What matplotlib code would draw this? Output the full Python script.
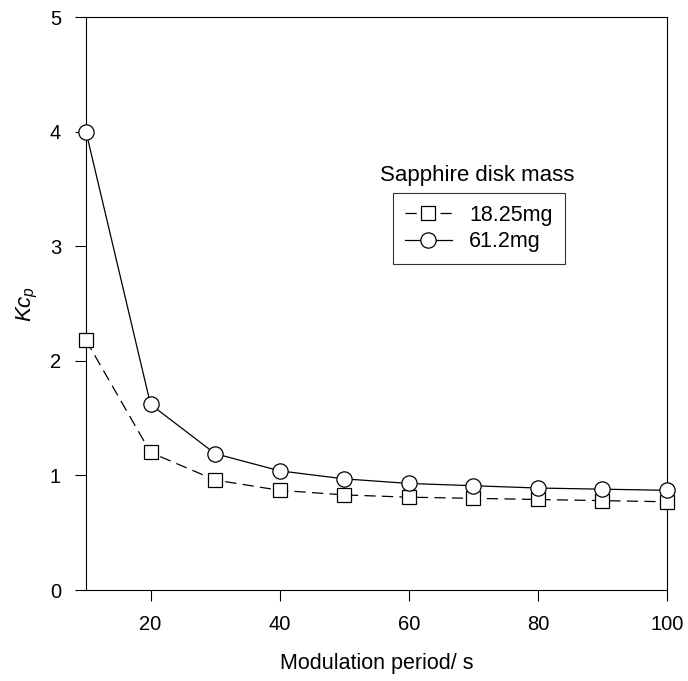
import matplotlib.pyplot as plt

plt.rcParams['font.family'] = ['Liberation Sans', 'DejaVu Sans']
plt.rcParams['mathtext.fontset'] = 'custom'
plt.rcParams['mathtext.rm'] = 'Liberation Sans'
plt.rcParams['mathtext.it'] = 'Liberation Sans:italic'

period = [10, 20, 30, 40, 50, 60, 70, 80, 90, 100]
kcp_18 = [2.18, 1.20, 0.96, 0.87, 0.83, 0.81, 0.80, 0.79, 0.78, 0.77]
kcp_61 = [4.00, 1.62, 1.19, 1.04, 0.97, 0.93, 0.91, 0.89, 0.88, 0.87]

fig = plt.figure(figsize=(6.88, 6.81), dpi=100)
ax = fig.add_axes([0.125, 0.1336, 0.8445, 0.8414])

ax.plot(period, kcp_18, color='black', lw=0.9, dashes=(9, 5),
        marker='s', ms=9.5, mfc='white', mec='black', mew=0.9,
        label='18.25mg', clip_on=False, zorder=3)
ax.plot(period, kcp_61, color='black', lw=0.9,
        marker='o', ms=11, mfc='white', mec='black', mew=0.9,
        label='61.2mg', clip_on=False, zorder=3)

ax.set_xlim(10, 100)
ax.set_ylim(0, 5)
ax.set_xticks([20, 40, 60, 80, 100])
ax.set_yticks([0, 1, 2, 3, 4, 5])
ax.tick_params(direction='out', length=8, width=0.8, labelsize=14.5, pad=10)
ax.set_xlabel('Modulation period/ s', fontsize=15.5, labelpad=14)
ax.set_ylabel('$Kc_p$', fontsize=16, labelpad=7)
for s in ax.spines.values():
    s.set_linewidth(0.8)

leg = ax.legend(loc='upper left', bbox_to_anchor=(0.528, 0.693), fontsize=15.5,
                frameon=True, fancybox=False, edgecolor='black',
                handlelength=2.2, handletextpad=0.8, borderpad=0.55,
                labelspacing=0.25, borderaxespad=0)
leg.get_frame().set_linewidth(0.8)
ax.text(0.673, 0.723, 'Sapphire disk mass', transform=ax.transAxes,
        ha='center', va='center', fontsize=16)

fig.savefig('out.png', dpi=100)
